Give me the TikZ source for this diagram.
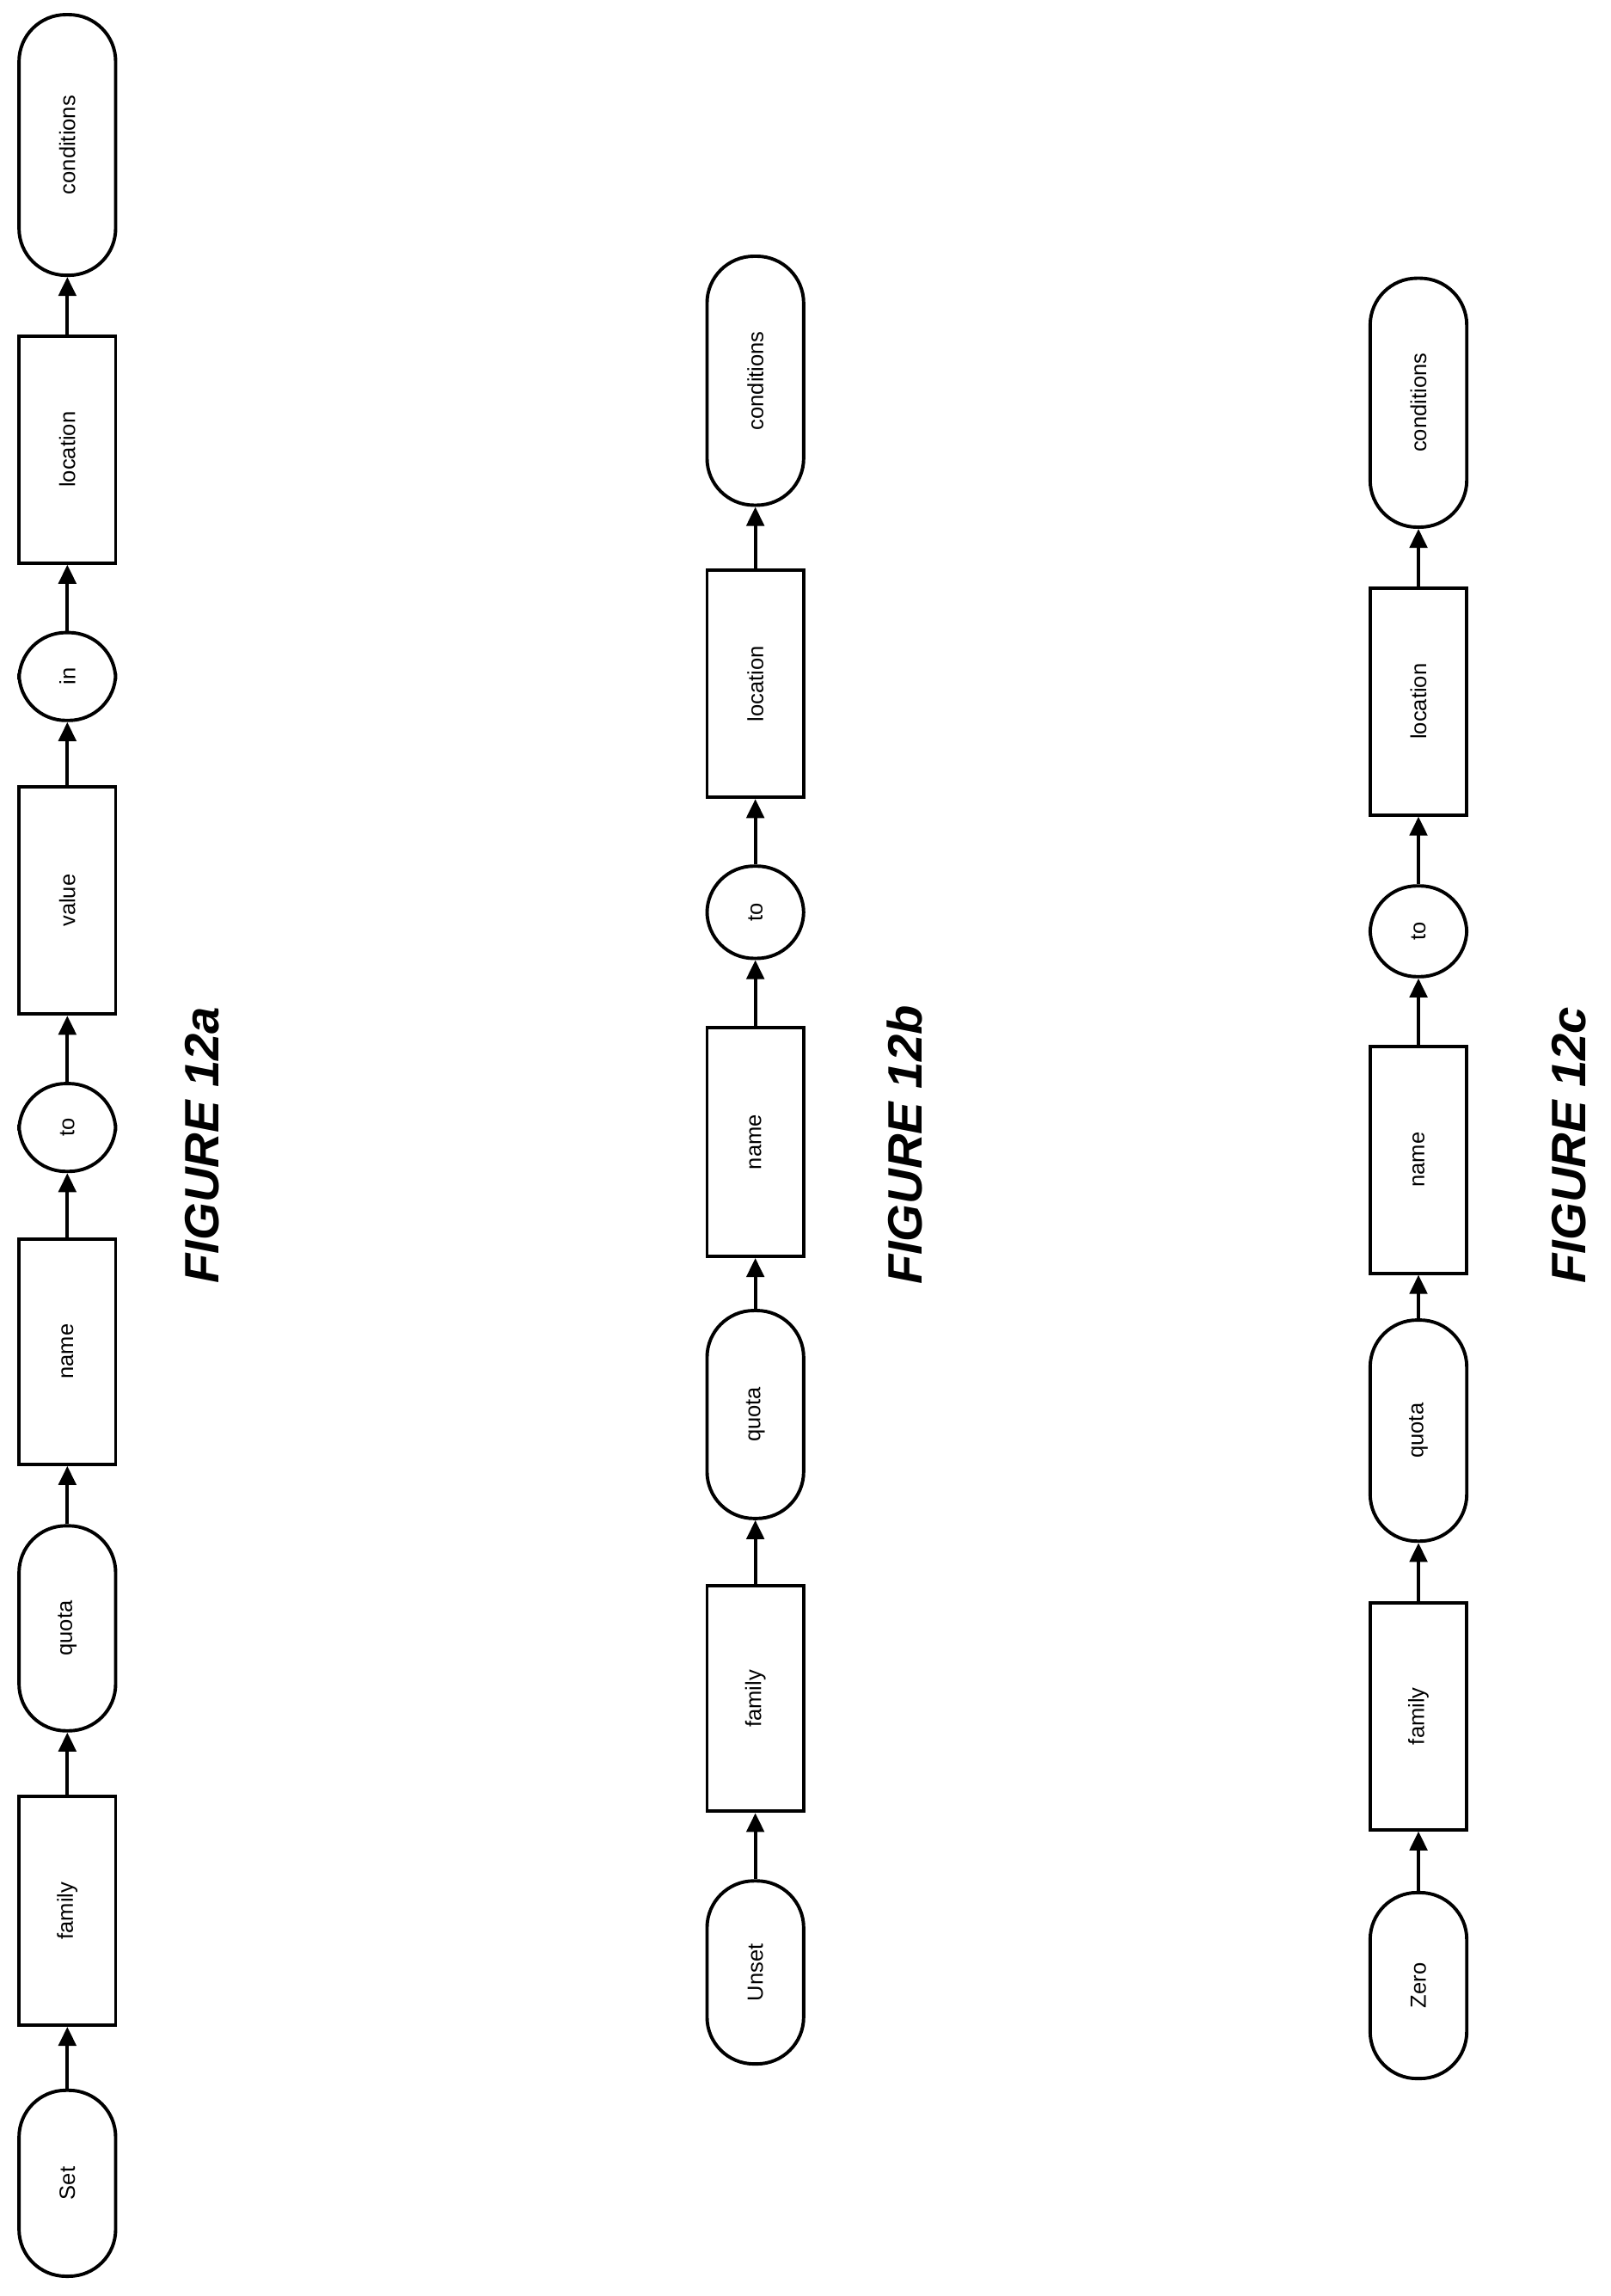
\documentclass[tikz,border=0pt]{standalone}
\usepackage{fontspec}
\setmainfont{Liberation Sans}
\usetikzlibrary{arrows.meta}
\begin{document}
\begin{tikzpicture}[x=1pt,y=-1pt,
 box/.style={draw,line width=2.3pt,rotate=90,minimum height=66pt,inner sep=0pt,font=\fontsize{15}{18}\selectfont,fill=white},
 rb/.style={box,rounded corners=32pt},
 arr/.style={line width=2.3pt,-{Triangle[length=13pt,width=12pt]}},
 fig/.style={rotate=90,font=\fontsize{33}{38}\selectfont\bfseries\itshape}]
\useasboundingbox (0,0) rectangle (1100,1568);
% column a
\node[rb,minimum width=127pt] (a1) at (46,1491) {Set};
\node[box,minimum width=156pt] (a2) at (46,1305) {family};
\node[rb,minimum width=140pt] (a3) at (46,1112) {quota};
\node[box,minimum width=154pt] (a4) at (46,923) {name};
\node[rb,minimum width=60pt] (a5) at (46,770) {to};
\node[box,minimum width=155pt] (a6) at (46,615) {value};
\node[rb,minimum width=60pt] (a7) at (46,462) {in};
\node[box,minimum width=155pt] (a8) at (46,307) {location};
\node[rb,minimum width=178pt] (a9) at (46,99) {conditions};
\foreach \i/\j in {a1/a2,a2/a3,a3/a4,a4/a5,a5/a6,a6/a7,a7/a8,a8/a9}
  \draw[arr] (\i.east) -- (\j.west);
\node[fig] (fa) at (138,782) {FIGURE 12a};
% column b
\node[rb,minimum width=125pt] (b1) at (516,1347) {Unset};
\node[box,minimum width=154pt] (b2) at (516,1160) {family};
\node[rb,minimum width=142pt] (b3) at (516,966) {quota};
\node[box,minimum width=156pt] (b4) at (516,780) {name};
\node[rb,minimum width=63pt] (b5) at (516,623) {to};
\node[box,minimum width=155pt] (b6) at (516,467) {location};
\node[rb,minimum width=170pt] (b7) at (516,260) {conditions};
\foreach \i/\j in {b1/b2,b2/b3,b3/b4,b4/b5,b5/b6,b6/b7}
  \draw[arr] (\i.east) -- (\j.west);
\node[fig] (fb) at (618,782) {FIGURE 12b};
% column c
\node[rb,minimum width=127pt] (c1) at (969,1356) {Zero};
\node[box,minimum width=155pt] (c2) at (969,1172) {family};
\node[rb,minimum width=151pt] (c3) at (969,977) {quota};
\node[box,minimum width=155pt] (c4) at (969,792) {name};
\node[rb,minimum width=62pt] (c5) at (969,636) {to};
\node[box,minimum width=155pt] (c6) at (969,479) {location};
\node[rb,minimum width=170pt] (c7) at (969,275) {conditions};
\foreach \i/\j in {c1/c2,c2/c3,c3/c4,c4/c5,c5/c6,c6/c7}
  \draw[arr] (\i.east) -- (\j.west);
\node[fig] (fc) at (1072,782) {FIGURE 12c};
\end{tikzpicture}
\end{document}
